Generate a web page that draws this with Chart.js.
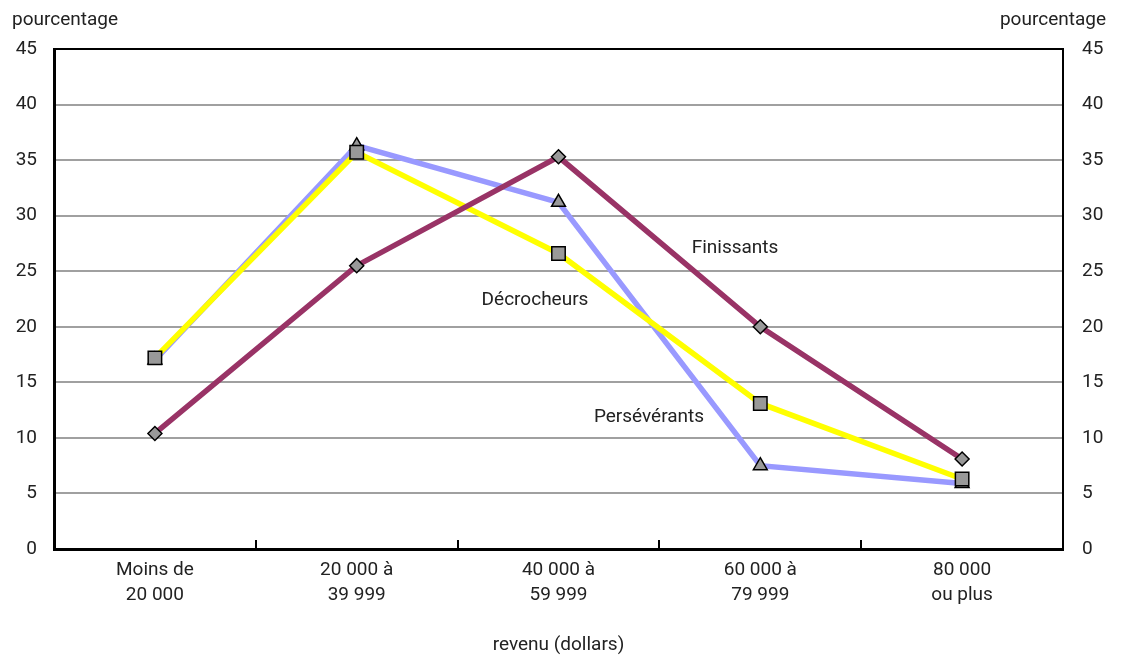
<!DOCTYPE html>
<html lang="fr">
<head>
<meta charset="utf-8">
<script src="https://cdn.jsdelivr.net/npm/chart.js@4/dist/chart.umd.min.js"></script>
<style>
  html, body { margin: 0; padding: 0; background: #fff; }
  #wrap { width: 1121px; height: 655px; }
</style>
</head>
<body>
<div id="wrap"><canvas id="c" width="1121" height="655"></canvas></div>
<script>
// Revenu familial selon le statut scolaire (pourcentage)
const categories = [["Moins de", "20 000"], ["20 000 à", "39 999"], ["40 000 à", "59 999"], ["60 000 à", "79 999"], ["80 000", "ou plus"]];
const finissants = [10.4, 25.5, 35.3, 20.0, 8.1];
const decrocheurs = [17.2, 35.7, 26.6, 13.1, 6.3];
const perseverants = [17.0, 36.3, 31.2, 7.5, 5.9];
const yTicks = [0, 5, 10, 15, 20, 25, 30, 35, 40, 45];

const FONT = 'Roboto, "Liberation Sans Narrow", Arial, sans-serif';
const FS = 19;
const TEXT = '#222222';

// Titles, series names, frame and inward x tick marks
const decor = {
  id: 'decor',
  afterDraw(chart) {
    const { ctx, chartArea: a, scales } = chart;
    const x = scales.x;
    ctx.save();
    // thin top frame line
    ctx.strokeStyle = '#000';
    ctx.lineWidth = 2;
    ctx.beginPath();
    ctx.moveTo(a.left, a.top);
    ctx.lineTo(a.right + 1, a.top);
    ctx.stroke();
    // inward tick marks at category boundaries
    ctx.lineWidth = 2;
    for (let i = 0; i < categories.length - 1; i++) {
      const px = Math.round((x.getPixelForValue(i) + x.getPixelForValue(i + 1)) / 2);
      ctx.beginPath();
      ctx.moveTo(px, a.bottom);
      ctx.lineTo(px, a.bottom - 9);
      ctx.stroke();
    }
    ctx.fillStyle = TEXT;
    ctx.font = FS + 'px ' + FONT;
    ctx.textBaseline = 'middle';
    ctx.textAlign = 'left';
    ctx.fillText('pourcentage', 12, 20);
    ctx.textAlign = 'right';
    ctx.fillText('pourcentage', 1106, 20);
    ctx.textAlign = 'center';
    ctx.fillText('revenu (dollars)', (a.left + a.right) / 2, 645);
    ctx.fillText('Finissants', a.left + 681, 248);
    ctx.fillText('Décrocheurs', a.left + 481, 300);
    ctx.fillText('Persévérants', a.left + 595, 417);
    ctx.restore();
  }
};

const markerFill = '#999999';

new Chart(document.getElementById('c'), {
  type: 'line',
  data: {
    labels: categories,
    datasets: [
      {
        label: 'Finissants',
        data: finissants,
        borderColor: '#993366',
        borderWidth: 5.5,
        pointStyle: 'rectRot',
        pointRadius: 7,
        pointBackgroundColor: markerFill,
        pointBorderColor: '#000',
        pointBorderWidth: 1.5,
        tension: 0
      },
      {
        label: 'Décrocheurs',
        data: decrocheurs,
        borderColor: '#FFFF00',
        borderWidth: 5.5,
        pointStyle: 'rect',
        pointRadius: 9.5,
        pointBackgroundColor: markerFill,
        pointBorderColor: '#000',
        pointBorderWidth: 1.5,
        tension: 0
      },
      {
        label: 'Persévérants',
        data: perseverants,
        borderColor: '#9999FF',
        borderWidth: 5.5,
        pointStyle: 'triangle',
        pointRadius: 8,
        pointBackgroundColor: markerFill,
        pointBorderColor: '#000',
        pointBorderWidth: 1.5,
        tension: 0
      }
    ]
  },
  options: {
    responsive: false,
    animation: false,
    layout: { padding: { top: 49, left: 0, right: 0, bottom: 0 } },
    plugins: { legend: { display: false }, tooltip: { enabled: false } },
    scales: {
      x: {
        type: 'category',
        offset: true,
        afterFit(s) { s.height = 106; },
        grid: { display: false, drawTicks: false },
        border: { display: true, color: '#000', width: 3 },
        ticks: { color: TEXT, font: { family: FONT, size: FS, lineHeight: 1.3 }, padding: 9, maxRotation: 0, autoSkip: false }
      },
      y: {
        position: 'left',
        min: 0, max: 45,
        afterFit(s) { s.width = 54; },
        afterBuildTicks(s) { s.ticks = yTicks.map(v => ({ value: v })); },
        grid: { color: '#a0a0a0', lineWidth: 2, drawTicks: false },
        border: { display: true, color: '#000', width: 3 },
        ticks: { color: TEXT, font: { family: FONT, size: FS }, padding: 17 }
      },
      y2: {
        position: 'right',
        min: 0, max: 45,
        afterFit(s) { s.width = 58; },
        afterBuildTicks(s) { s.ticks = yTicks.map(v => ({ value: v })); },
        grid: { display: false, drawTicks: false },
        border: { display: true, color: '#000', width: 2 },
        ticks: { color: TEXT, font: { family: FONT, size: FS }, padding: 19 }
      }
    }
  },
  plugins: [decor]
});
</script>
</body>
</html>
